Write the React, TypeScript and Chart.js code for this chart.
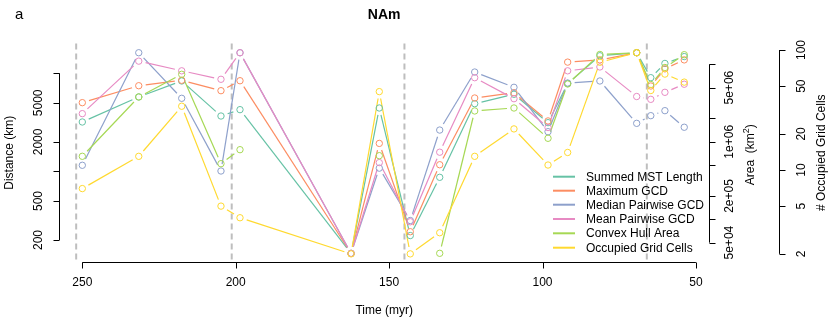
import React, { useEffect, useRef } from "react";
import { Chart, registerables } from "chart.js";

Chart.register(...registerables);

// Stage midpoints (myr) at which the range metrics were computed
const timesMyr = [250, 231.6, 217.6, 204.8, 198.6, 162.4, 153.2, 143.1, 133.5, 122.1, 109.3, 98.2, 91.8, 81.3, 69.3, 64.7, 60.1, 53.8];

// Distance metrics (km)
const summedMstKm = [3190, 5740, 8350, 3670, 4260, 146, 4430, 222, 871, 4900, 6110, 3140, 7870, 15100, 16200, 9020, 12600, 14800];
const maxGcdKm = [5020, 7470, 8490, 6650, 8400, 146, 1930, 243, 1170, 5600, 6340, 3270, 13000, 13700, 16200, 7420, 11100, 13700];
const medianGcdKm = [1155, 16200, 5560, 1010, 16200, 146, 1080, 316, 2640, 10300, 7200, 2540, 7960, 8350, 3090, 3700, 4160, 2820];
const meanGcdKm = [3880, 13300, 10600, 8690, 16200, 146, 1230, 307, 1570, 9020, 5510, 2800, 10600, 11600, 5800, 5430, 6400, 7740];

// Convex hull area (km^2); null where fewer than three cells are occupied
const hullAreaKm2 = [6.5e5, 3.79e6, 7.43e6, 5.22e5, 7.91e5, null, 6.62e5, null, 3.64e4, 2.5e6, 2.73e6, 1.11e6, 5.57e6, 1.34e7, 1.41e7, 5.49e6, 9.09e6, 1.33e7];

// Number of occupied grid cells
const gridCells = [7, 13, 34, 5, 4, 2, 45, 2, 3, 13, 22, 11, 14, 79, 95, 46, 63, 54];

// Mass-extinction boundaries (myr)
const boundaryMyr = [252, 201.3, 145, 66];

// Axis ticks
const timeTicks = [250, 200, 150, 100, 50];
const distTicks = [200, 500, 1000, 2000, 5000, 10000];
const distTickLabels = ["200", "500", "", "2000", "5000", ""];
const areaTicks = [5e4, 1e5, 2e5, 5e5, 1e6, 2e6, 5e6, 1e7];
const areaTickLabels = ["5e+04", "", "2e+05", "", "1e+06", "", "5e+06", ""];
const cellTicks = [2, 5, 10, 20, 50, 100];
const cellTickLabels = ["2", "5", "10", "20", "50", "100"];

const seriesNames = [
  "Summed MST Length",
  "Maximum GCD",
  "Median Pairwise GCD",
  "Mean Pairwise GCD",
  "Convex Hull Area",
  "Occupied Grid Cells",
];
const seriesColors = ["#66C2A5", "#FC8D62", "#8DA0CB", "#E78AC3", "#A6D854", "#FFD92F"];
const seriesValues = [summedMstKm, maxGcdKm, medianGcdKm, meanGcdKm, hullAreaKm2, gridCells];
const seriesAxes = ["yDist", "yDist", "yDist", "yDist", "yArea", "yCells"];

const FONT = "Liberation Sans, Arial, Helvetica, sans-serif";
const GAP = 7;

function vText(ctx: CanvasRenderingContext2D, text: string, x: number, y: number) {
  ctx.save();
  ctx.translate(x, y);
  ctx.rotate(-Math.PI / 2);
  ctx.textAlign = "center";
  ctx.textBaseline = "middle";
  ctx.fillText(text, 0, 0);
  ctx.restore();
}

const rPlotPlugin = {
  id: "rPlot",
  beforeDatasetsDraw(chart: any) {
    const ctx: CanvasRenderingContext2D = chart.ctx;
    const area = chart.chartArea;
    const xs = chart.scales.x;

    // boundary lines
    ctx.save();
    ctx.strokeStyle = "#BEBEBE";
    ctx.lineWidth = 2;
    ctx.setLineDash([6, 4]);
    for (const b of boundaryMyr) {
      const px = xs.getPixelForValue(b);
      ctx.beginPath();
      ctx.moveTo(px, area.top);
      ctx.lineTo(px, area.bottom + 1);
      ctx.stroke();
    }
    ctx.restore();

    // connecting segments, broken around each point marker
    ctx.save();
    ctx.lineWidth = 1.2;
    chart.data.datasets.forEach((ds: any, i: number) => {
      const meta = chart.getDatasetMeta(i);
      const pts = meta.data;
      ctx.strokeStyle = ds.borderColor;
      for (let j = 0; j < pts.length - 1; j++) {
        const p = pts[j];
        const q = pts[j + 1];
        if (p.skip || q.skip) continue;
        if (ds.data[j].y == null || ds.data[j + 1].y == null) continue;
        const dx = q.x - p.x;
        const dy = q.y - p.y;
        const d = Math.hypot(dx, dy);
        if (d <= 2 * GAP) continue;
        const ux = dx / d;
        const uy = dy / d;
        ctx.beginPath();
        ctx.moveTo(p.x + ux * GAP, p.y + uy * GAP);
        ctx.lineTo(q.x - ux * GAP, q.y - uy * GAP);
        ctx.stroke();
      }
    });
    ctx.restore();
  },
  afterDraw(chart: any) {
    const ctx: CanvasRenderingContext2D = chart.ctx;
    const area = chart.chartArea;
    const xs = chart.scales.x;
    const yD = chart.scales.yDist;
    const yA = chart.scales.yArea;
    const yC = chart.scales.yCells;
    const TCK = 6;

    ctx.save();
    ctx.strokeStyle = "#000";
    ctx.fillStyle = "#000";
    ctx.lineWidth = 1;
    ctx.font = `12px ${FONT}`;

    // bottom time axis
    const yb = Math.round(area.bottom) + 0.5;
    ctx.beginPath();
    ctx.moveTo(xs.getPixelForValue(timeTicks[0]), yb);
    ctx.lineTo(xs.getPixelForValue(timeTicks[timeTicks.length - 1]), yb);
    for (const t of timeTicks) {
      const px = Math.round(xs.getPixelForValue(t)) + 0.5;
      ctx.moveTo(px, yb);
      ctx.lineTo(px, yb + TCK);
    }
    ctx.stroke();
    ctx.textAlign = "center";
    ctx.textBaseline = "middle";
    for (const t of timeTicks) {
      ctx.fillText(String(t), xs.getPixelForValue(t), 283);
    }
    ctx.fillText("Time (myr)", (area.left + area.right) / 2, 311);

    // left distance axis
    const xl = Math.round(area.left) + 0.5;
    ctx.beginPath();
    ctx.moveTo(xl, yD.getPixelForValue(distTicks[0]));
    ctx.lineTo(xl, yD.getPixelForValue(distTicks[distTicks.length - 1]));
    for (const v of distTicks) {
      const py = Math.round(yD.getPixelForValue(v)) + 0.5;
      ctx.moveTo(xl, py);
      ctx.lineTo(xl - TCK, py);
    }
    ctx.stroke();
    distTicks.forEach((v, i) => {
      if (distTickLabels[i]) vText(ctx, distTickLabels[i], 39, yD.getPixelForValue(v));
    });
    vText(ctx, "Distance (km)", 10, (area.top + area.bottom) / 2);

    // first right axis: area
    const xr = Math.round(area.right) + 0.5;
    ctx.beginPath();
    ctx.moveTo(xr, yA.getPixelForValue(areaTicks[0]));
    ctx.lineTo(xr, yA.getPixelForValue(areaTicks[areaTicks.length - 1]));
    for (const v of areaTicks) {
      const py = Math.round(yA.getPixelForValue(v)) + 0.5;
      ctx.moveTo(xr, py);
      ctx.lineTo(xr + TCK, py);
    }
    ctx.stroke();
    areaTicks.forEach((v, i) => {
      if (areaTickLabels[i]) vText(ctx, areaTickLabels[i], 730, yA.getPixelForValue(v));
    });
    // "Area (km²)" with a raised exponent
    {
      const cx = 750;
      const cy = (area.top + area.bottom) / 2 + 2;
      const mainA = "Area  (km";
      const mainB = ")";
      ctx.font = `12px ${FONT}`;
      const wA = ctx.measureText(mainA).width;
      const wB = ctx.measureText(mainB).width;
      ctx.font = `9px ${FONT}`;
      const wS = ctx.measureText("2").width;
      const total = wA + wS + wB;
      ctx.save();
      ctx.translate(cx, cy);
      ctx.rotate(-Math.PI / 2);
      ctx.textAlign = "left";
      ctx.textBaseline = "alphabetic";
      let x0 = -total / 2;
      ctx.font = `12px ${FONT}`;
      ctx.fillText(mainA, x0, 4);
      x0 += wA;
      ctx.font = `9px ${FONT}`;
      ctx.fillText("2", x0, -1);
      x0 += wS;
      ctx.font = `12px ${FONT}`;
      ctx.fillText(mainB, x0, 4);
      ctx.restore();
    }

    // second right axis: occupied cells
    ctx.font = `12px ${FONT}`;
    const xc = 779.5;
    ctx.beginPath();
    ctx.moveTo(xc, yC.getPixelForValue(cellTicks[0]));
    ctx.lineTo(xc, yC.getPixelForValue(cellTicks[cellTicks.length - 1]));
    for (const v of cellTicks) {
      const py = Math.round(yC.getPixelForValue(v)) + 0.5;
      ctx.moveTo(xc, py);
      ctx.lineTo(xc + TCK, py);
    }
    ctx.stroke();
    cellTicks.forEach((v, i) => {
      vText(ctx, cellTickLabels[i], 802, yC.getPixelForValue(v));
    });
    vText(ctx, "# Occupied Grid Cells", 822, (area.top + area.bottom) / 2);

    // legend
    const legendY = [176.7, 190.7, 204.7, 219, 233.3, 247.7];
    ctx.textAlign = "left";
    ctx.textBaseline = "middle";
    seriesNames.forEach((name, i) => {
      ctx.strokeStyle = seriesColors[i];
      ctx.lineWidth = 2;
      ctx.beginPath();
      ctx.moveTo(553, legendY[i]);
      ctx.lineTo(575, legendY[i]);
      ctx.stroke();
      ctx.fillStyle = "#000";
      ctx.fillText(name, 586, legendY[i] + 0.5);
    });

    // title and panel letter
    ctx.textAlign = "center";
    ctx.textBaseline = "alphabetic";
    ctx.font = `bold 14px ${FONT}`;
    ctx.fillText("NAm", (area.left + area.right) / 2, 19);
    ctx.textAlign = "left";
    ctx.font = `15px ${FONT}`;
    ctx.fillText("a", 15, 18.5);

    ctx.restore();
  },
};

export default function App() {
  const canvasRef = useRef<HTMLCanvasElement>(null);

  useEffect(() => {
    const canvas = canvasRef.current;
    if (!canvas) return;

    const datasets = seriesNames.map((name, i) => ({
      label: name,
      data: timesMyr.map((t, j) => ({ x: t, y: seriesValues[i][j] })),
      yAxisID: seriesAxes[i],
      borderColor: seriesColors[i],
      backgroundColor: seriesColors[i],
      showLine: false,
      pointRadius: 3.2,
      pointBorderWidth: 1,
      pointBorderColor: seriesColors[i],
      pointBackgroundColor: "rgba(0,0,0,0)",
      pointHoverRadius: 3.2,
      clip: false as const,
      // later series are drawn on top
      order: seriesNames.length - i,
    }));

    const chart = new Chart(canvas, {
      type: "line",
      data: { datasets },
      options: {
        animation: false,
        responsive: false,
        events: [],
        layout: { padding: { left: 59.3, right: 122, top: 43.5, bottom: 64 } },
        plugins: {
          legend: { display: false },
          tooltip: { enabled: false },
          title: { display: false },
        },
        scales: {
          x: { type: "linear", reverse: true, min: 45.73, max: 257.5, bounds: "data", display: false },
          yDist: { type: "logarithmic", min: 119.4, max: 20120, bounds: "data", display: false },
          yArea: { type: "logarithmic", min: 2.812e4, max: 1.855e7, bounds: "data", display: false },
          yCells: { type: "logarithmic", min: 1.711, max: 113.3, bounds: "data", display: false },
        },
      },
      plugins: [rPlotPlugin],
    });

    return () => chart.destroy();
  }, []);

  return (
    <div style={{ position: "fixed", left: 0, top: 0, width: 831, height: 326, background: "#fff" }}>
      <canvas ref={canvasRef} width={831} height={326} style={{ display: "block" }} />
    </div>
  );
}
